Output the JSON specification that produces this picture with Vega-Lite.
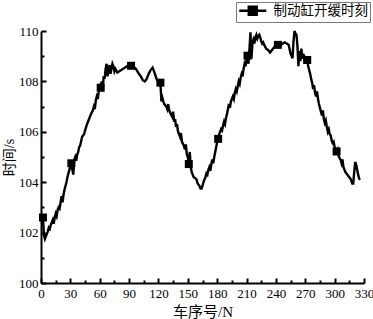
{
"$schema":"https://vega.github.io/schema/vega-lite/v6.json",
"width":323,"height":252,
"autosize":{"type":"none"},
"padding":{"left":41,"top":31,"right":9,"bottom":36},
"background":"white",
"config":{"view":{"stroke":null},"font":"Liberation Serif"},
"data":{"values":[
{"x":1,"y":102.4},{"x":2,"y":102.6,"m":1},{"x":3,"y":101.9},{"x":4,"y":101.75},{"x":5,"y":101.85},{"x":6,"y":101.95},{"x":7,"y":102.05},{"x":8,"y":102.2},{"x":9,"y":102.15},{"x":10,"y":102.3},
{"x":11,"y":102.4},{"x":12,"y":102.5},{"x":13,"y":102.35},{"x":14,"y":102.6},{"x":15,"y":102.75},{"x":16,"y":102.65},{"x":17,"y":102.9},{"x":18,"y":103.0},{"x":19,"y":102.95},{"x":20,"y":103.2},
{"x":21,"y":103.45},{"x":22,"y":103.2},{"x":23,"y":103.5},{"x":24,"y":103.7},{"x":25,"y":103.85},{"x":26,"y":104.0},{"x":27,"y":104.2},{"x":28,"y":104.35},{"x":29,"y":104.5},{"x":30,"y":104.6},
{"x":31,"y":104.75,"m":1},{"x":32,"y":104.5},{"x":33,"y":104.3},{"x":34,"y":104.9},{"x":35,"y":105.0},{"x":36,"y":104.85},{"x":37,"y":105.1},{"x":38,"y":105.2},{"x":39,"y":105.4},{"x":40,"y":105.45},
{"x":42,"y":105.8},{"x":44,"y":105.9},{"x":45,"y":106.05},{"x":47,"y":106.3},{"x":49,"y":106.5},{"x":51,"y":106.7},{"x":53,"y":106.85},{"x":54,"y":107.0},{"x":55,"y":106.9},{"x":56,"y":107.25},
{"x":57,"y":107.4},{"x":58,"y":107.3},{"x":59,"y":107.6},{"x":60,"y":107.9},{"x":61,"y":107.75,"m":1},{"x":62,"y":108.0},{"x":63,"y":107.6},{"x":64,"y":108.2},{"x":65,"y":108.1},{"x":66,"y":108.5},
{"x":67,"y":108.7},{"x":68,"y":108.2},{"x":69,"y":108.45},{"x":70,"y":108.65},{"x":71,"y":108.3},{"x":72,"y":108.5},{"x":73,"y":108.7},{"x":74,"y":108.6},{"x":75,"y":108.4},{"x":76,"y":108.5},
{"x":78,"y":108.35},{"x":80,"y":108.4},{"x":82,"y":108.45},{"x":84,"y":108.5},{"x":86,"y":108.55},{"x":88,"y":108.6},{"x":92,"y":108.62,"m":1},{"x":94,"y":108.6},{"x":97,"y":108.5},{"x":100,"y":108.3},
{"x":102,"y":108.2},{"x":104,"y":108.05},{"x":106,"y":108.0},{"x":108,"y":108.1},{"x":110,"y":108.3},{"x":112,"y":108.45},{"x":114,"y":108.55},{"x":116,"y":108.35},{"x":118,"y":108.1},{"x":120,"y":107.95},
{"x":122,"y":107.95,"m":1},{"x":123,"y":107.2},{"x":124,"y":107.35},{"x":125,"y":107.2},{"x":126,"y":107.1},{"x":128,"y":107.0},{"x":129,"y":106.9},{"x":130,"y":107.1},{"x":131,"y":106.85},{"x":132,"y":106.75},
{"x":134,"y":106.6},{"x":135,"y":106.8},{"x":136,"y":106.4},{"x":137,"y":106.5},{"x":138,"y":106.2},{"x":139,"y":106.3},{"x":140,"y":106.0},{"x":142,"y":105.8},{"x":143,"y":105.95},{"x":144,"y":105.6},
{"x":146,"y":105.45},{"x":147,"y":105.3},{"x":148,"y":105.5},{"x":149,"y":105.1},{"x":150,"y":105.0},{"x":151,"y":104.72,"m":1},{"x":152,"y":105.2},{"x":153,"y":104.6},{"x":154,"y":104.4},{"x":155,"y":104.3},
{"x":156,"y":104.2},{"x":158,"y":104.15},{"x":159,"y":104.1},{"x":160,"y":103.95},{"x":161,"y":103.9},{"x":162,"y":103.85},{"x":163,"y":103.75},{"x":164,"y":103.75},{"x":165,"y":103.85},{"x":166,"y":104.0},
{"x":167,"y":104.1},{"x":168,"y":104.2},{"x":169,"y":104.35},{"x":170,"y":104.3},{"x":171,"y":104.5},{"x":172,"y":104.6},{"x":173,"y":104.45},{"x":174,"y":104.7},{"x":175,"y":104.9},{"x":176,"y":104.75},
{"x":177,"y":105.0},{"x":178,"y":105.2},{"x":179,"y":105.4},{"x":180,"y":105.6},{"x":181,"y":105.72,"m":1},{"x":182,"y":105.9},{"x":183,"y":106.0},{"x":184,"y":106.1},{"x":185,"y":106.05},{"x":186,"y":106.25},
{"x":187,"y":106.4},{"x":188,"y":106.3},{"x":189,"y":106.55},{"x":190,"y":106.7},{"x":191,"y":106.9},{"x":192,"y":107.1},{"x":193,"y":106.95},{"x":194,"y":107.2},{"x":195,"y":107.3},{"x":196,"y":107.4},
{"x":197,"y":107.3},{"x":198,"y":107.55},{"x":199,"y":107.7},{"x":200,"y":107.6},{"x":201,"y":107.8},{"x":202,"y":108.0},{"x":203,"y":107.9},{"x":204,"y":108.15},{"x":205,"y":108.3},{"x":206,"y":108.2},
{"x":207,"y":108.5},{"x":208,"y":108.7},{"x":209,"y":108.6},{"x":210,"y":108.9},{"x":211,"y":109.02,"m":1},{"x":212,"y":108.7},{"x":213,"y":109.3},{"x":214,"y":109.95},{"x":215,"y":108.9},{"x":216,"y":109.5},
{"x":217,"y":109.65},{"x":218,"y":109.5},{"x":219,"y":109.75},{"x":220,"y":109.85},{"x":221,"y":109.7},{"x":222,"y":109.8},{"x":223,"y":109.85},{"x":224,"y":109.75},{"x":225,"y":109.6},{"x":226,"y":109.5},
{"x":227,"y":109.55},{"x":228,"y":109.45},{"x":230,"y":109.3},{"x":232,"y":109.25},{"x":234,"y":109.15},{"x":236,"y":109.25},{"x":238,"y":109.35},{"x":240,"y":109.45},{"x":242,"y":109.45,"m":1},{"x":245,"y":109.45},
{"x":247,"y":109.5},{"x":249,"y":109.55},{"x":251,"y":109.5},{"x":253,"y":109.45},{"x":255,"y":109.1},{"x":257,"y":108.92},{"x":258,"y":109.6},{"x":259,"y":110.0},{"x":260,"y":109.9},{"x":261,"y":109.85},
{"x":262,"y":109.4},{"x":263,"y":108.6},{"x":264,"y":109.2},{"x":265,"y":108.8},{"x":266,"y":109.3},{"x":267,"y":108.9},{"x":268,"y":109.1},{"x":269,"y":108.85},{"x":270,"y":108.95},{"x":272,"y":108.85,"m":1},
{"x":273,"y":108.6},{"x":274,"y":108.45},{"x":275,"y":108.3},{"x":276,"y":108.1},{"x":277,"y":107.95},{"x":278,"y":107.7},{"x":279,"y":107.85},{"x":280,"y":107.55},{"x":281,"y":107.4},{"x":282,"y":107.6},
{"x":283,"y":107.3},{"x":284,"y":107.1},{"x":285,"y":106.95},{"x":286,"y":106.8},{"x":287,"y":106.65},{"x":288,"y":106.85},{"x":289,"y":106.5},{"x":290,"y":106.35},{"x":291,"y":106.45},{"x":292,"y":106.2},
{"x":293,"y":106.0},{"x":294,"y":106.1},{"x":295,"y":105.9},{"x":296,"y":105.85},{"x":297,"y":105.65},{"x":298,"y":105.55},{"x":299,"y":105.6},{"x":300,"y":105.4},{"x":302,"y":105.22,"m":1},{"x":303,"y":105.3},
{"x":304,"y":105.05},{"x":305,"y":104.95},{"x":306,"y":104.9},{"x":307,"y":104.75},{"x":308,"y":104.9},{"x":309,"y":104.6},{"x":310,"y":104.5},{"x":311,"y":104.4},{"x":312,"y":104.35},{"x":313,"y":104.3},
{"x":314,"y":104.25},{"x":315,"y":104.2},{"x":316,"y":104.15},{"x":317,"y":104.05},{"x":318,"y":103.95},{"x":319,"y":103.95},{"x":320,"y":104.4},{"x":321,"y":104.8},{"x":322,"y":104.7},{"x":323,"y":104.5},
{"x":324,"y":104.3},{"x":325,"y":104.15},{"x":326,"y":104.1}
]},
"layer":[
{"mark":{"type":"line","strokeWidth":2.4,"color":"black"},
 "encoding":{
  "x":{"field":"x","type":"quantitative","scale":{"domain":[0,330],"nice":false},
   "axis":{"values":[0,30,60,90,120,150,180,210,240,270,300,330],"grid":false,"tickSize":-5,"tickWidth":2,"tickColor":"black","domainColor":"black","domainWidth":2,"labelFont":"Liberation Serif","labelFontSize":13,"labelColor":"black","labelPadding":9,"labelFlush":false,"title":"车序号/N","titleFont":"Liberation Serif, Noto Sans CJK SC","titleFontSize":15,"titleFontWeight":"normal","titleColor":"black","titlePadding":4}},
  "y":{"field":"y","type":"quantitative","scale":{"domain":[100,110],"nice":false,"zero":false},
   "axis":{"values":[100,102,104,106,108,110],"grid":false,"tickSize":-5,"tickWidth":2,"tickColor":"black","domainColor":"black","domainWidth":2,"labelFont":"Liberation Serif","labelFontSize":13,"labelColor":"black","labelPadding":8,"labelFlush":false,"title":"时间/s","titleFont":"Liberation Serif, Noto Sans CJK SC","titleFontSize":14,"titleFontWeight":"normal","titleColor":"black","titlePadding":2}},
  "color":{"datum":"制动缸开缓时刻","type":"nominal","scale":{"range":["black"]},
   "legend":{"orient":"none","legendX":195,"legendY":-29,"title":null,"padding":2,"strokeColor":"#777","fillColor":"white","symbolType":"M-2.7,0H2.7M-0.8,-0.8H0.8V0.8H-0.8Z","symbolSize":100,"symbolStrokeWidth":2.4,"symbolFillColor":"black","symbolStrokeColor":"black","symbolOffset":8,"labelOffset":14,"labelFont":"Noto Sans CJK SC","labelFontSize":13.5,"labelColor":"black"}}
 }},
{"transform":[{"filter":"datum.m"}],
 "mark":{"type":"point","shape":"square","filled":true,"size":64,"opacity":1,"color":"black"},
 "encoding":{
  "x":{"field":"x","type":"quantitative",
   "axis":{"orient":"bottom","values":[15,45,75,105,135,165,195,225,255,285,315],"grid":false,"labels":false,"domain":false,"tickSize":-3,"tickWidth":2,"tickColor":"black","title":null}},
  "y":{"field":"y","type":"quantitative",
   "axis":{"orient":"left","values":[101,103,105,107,109],"grid":false,"labels":false,"domain":false,"tickSize":-3,"tickWidth":2,"tickColor":"black","title":null}}
 }}
],
"resolve":{"axis":{"x":"independent","y":"independent"}}
}
